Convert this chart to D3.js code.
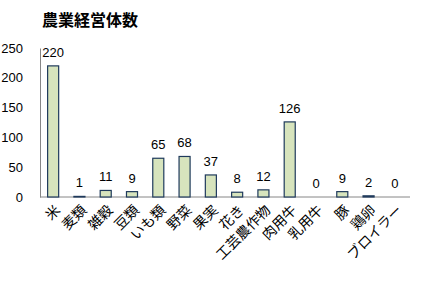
<!DOCTYPE html>
<html>
<head>
<meta charset="utf-8">
<script src="https://cdn.jsdelivr.net/npm/d3@7"></script>
<style>
  body { margin: 0; background: #fff; }
  svg text { font-family: "Noto Sans CJK JP", sans-serif; }
</style>
</head>
<body>
<div id="chart"></div>
<script>
// chart data
const categories = ["米", "麦類", "雑穀", "豆類", "いも類", "野菜", "果実", "花き", "工芸農作物", "肉用牛", "乳用牛", "豚", "鶏卵", "ブロイラー"];
const values = [220, 1, 11, 9, 65, 68, 37, 8, 12, 126, 0, 9, 2, 0];
const yTicks = [0, 50, 100, 150, 200, 250];
const title = "農業経営体数";

const width = 421, height = 281;
const svg = d3.select("#chart").append("svg")
    .attr("width", width)
    .attr("height", height);

const x = d3.scaleBand()
    .domain(categories)
    .range([40, 408])
    .paddingInner(0.58)
    .paddingOuter(0.29);

const y = d3.scaleLinear()
    .domain([0, 250])
    .range([197, 48]);

// title
svg.append("text")
    .attr("x", 42)
    .attr("y", 26)
    .attr("font-size", 16)
    .attr("font-weight", "bold")
    .text(title);

// y axis
const yAxis = d3.axisLeft(y).tickValues(yTicks).tickSize(0).tickPadding(17);
const gy = svg.append("g").attr("transform", "translate(40,0)").call(yAxis);
gy.select(".domain").attr("stroke", "#868686");
gy.selectAll("text")
    .attr("font-size", 13)
    .style("font-family", "'Liberation Sans', sans-serif")
    .attr("fill", "#000");

// x axis line
svg.append("line")
    .attr("x1", 40).attr("x2", 410)
    .attr("y1", y(0)).attr("y2", y(0))
    .attr("stroke", "#868686");

// bars
svg.selectAll("rect.bar")
    .data(values)
    .enter()
    .append("rect")
    .attr("class", "bar")
    .attr("x", (d, i) => x(categories[i]))
    .attr("width", x.bandwidth())
    .attr("y", d => y(d))
    .attr("height", d => y(0) - y(d))
    .attr("fill", "#d7e4bd")
    .attr("stroke", "#1f3a5c")
    .attr("stroke-width", 1.2);

// value labels
svg.selectAll("text.val")
    .data(values)
    .enter()
    .append("text")
    .attr("class", "val")
    .attr("x", (d, i) => x(categories[i]) + x.bandwidth() / 2)
    .attr("y", d => y(d) - 9)
    .attr("text-anchor", "middle")
    .attr("font-size", 13)
    .style("font-family", "'Liberation Sans', sans-serif")
    .text(d => d);

// category labels
svg.selectAll("text.cat")
    .data(categories)
    .enter()
    .append("text")
    .attr("class", "cat")
    .attr("transform", d => `translate(${x(d) + x.bandwidth() / 2 + 8},${y(0) + 14}) rotate(-45)`)
    .attr("text-anchor", "end")
    .attr("font-size", 14)
    .text(d => d);
</script>
</body>
</html>
